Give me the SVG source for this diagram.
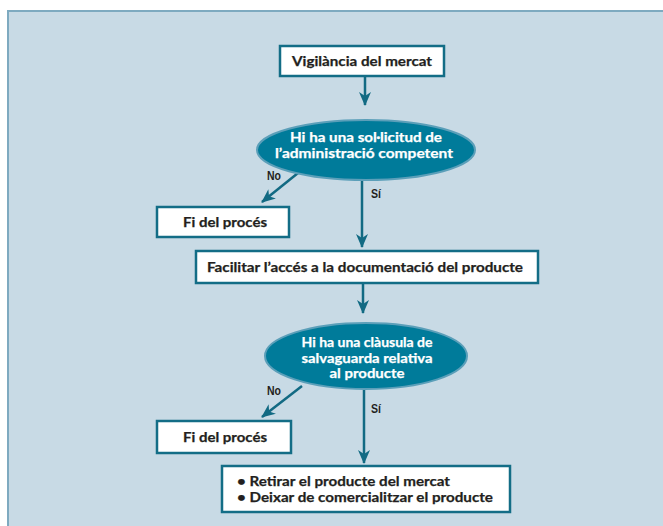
<svg xmlns="http://www.w3.org/2000/svg" width="663" height="526" viewBox="0 0 663 526">
<style>
.box{fill:#ffffff;stroke:#136d86;stroke-width:2.5}
.ell{fill:#007b9a;stroke:#5b9fb9;stroke-width:2}
.t{font-family:Lato,"Liberation Sans",sans-serif;font-weight:bold;font-size:13.5px;fill:#231f20;stroke:#231f20;stroke-width:0.25}
.w{font-family:Lato,"Liberation Sans",sans-serif;font-weight:bold;font-size:13.5px;fill:#ffffff;stroke:#ffffff;stroke-width:0.25;text-anchor:middle}
.c{text-anchor:middle}
.lbl{font-family:"Liberation Sans",sans-serif;font-weight:bold;font-size:12.5px;fill:#231f20}
.con{stroke:#126a83;stroke-width:2.5;fill:none;marker-end:url(#ah)}
</style>
<defs>
<marker id="ah" viewBox="0 0 14 12" refX="13" refY="6" markerWidth="14" markerHeight="12" markerUnits="userSpaceOnUse" orient="auto">
<path d="M0,0 L14,6 L0,12 L4,6 Z" fill="#126a83"/>
</marker>
</defs>
<rect x="0" y="0" width="663" height="526" fill="#ffffff"/>
<rect x="8" y="11" width="662" height="522" fill="#c8dae5" stroke="#7eaac0" stroke-width="2"/>
<g id="connectors">
<line class="con" x1="365" y1="77" x2="365" y2="105"/>
<line class="con" x1="298" y1="173" x2="262" y2="202"/>
<line class="con" x1="362" y1="180" x2="362" y2="247"/>
<line class="con" x1="363" y1="284" x2="363" y2="313"/>
<line class="con" x1="302" y1="386" x2="262" y2="417"/>
<line class="con" x1="364" y1="390" x2="364" y2="463"/>
<text class="lbl" x="267" y="180" textLength="14" lengthAdjust="spacingAndGlyphs">No</text>
<text class="lbl" x="371" y="198" textLength="10" lengthAdjust="spacingAndGlyphs">Sí</text>
<text class="lbl" x="267" y="395" textLength="14" lengthAdjust="spacingAndGlyphs">No</text>
<text class="lbl" x="371" y="413" textLength="10" lengthAdjust="spacingAndGlyphs">Sí</text>
</g>
<g id="vigilancia">
<rect class="box" x="280" y="46" width="164" height="30"/>
<text class="t c" x="362" y="66" textLength="140" lengthAdjust="spacingAndGlyphs">Vigilància del mercat</text>
</g>
<g id="decisio1">
<ellipse class="ell" cx="366" cy="150" rx="109" ry="30"/>
<text class="w" x="366" y="142" textLength="152" lengthAdjust="spacingAndGlyphs">Hi ha una sol·licitud de</text>
<text class="w" x="364" y="158" textLength="178" lengthAdjust="spacingAndGlyphs">l’administració competent</text>
</g>
<g id="fi1">
<rect class="box" x="157" y="207" width="132" height="30"/>
<text class="t c" x="225" y="227" textLength="84" lengthAdjust="spacingAndGlyphs">Fi del procés</text>
</g>
<g id="facilitar">
<rect class="box" x="196" y="251" width="342" height="32"/>
<text class="t c" x="365" y="272" textLength="316" lengthAdjust="spacingAndGlyphs">Facilitar l’accés a la documentació del producte</text>
</g>
<g id="decisio2">
<ellipse class="ell" cx="366" cy="356" rx="101" ry="33"/>
<text class="w" x="367" y="347" textLength="131" lengthAdjust="spacingAndGlyphs">Hi ha una clàusula de</text>
<text class="w" x="367" y="363" textLength="131" lengthAdjust="spacingAndGlyphs">salvaguarda relativa</text>
<text class="w" x="367" y="378" textLength="75" lengthAdjust="spacingAndGlyphs">al producte</text>
</g>
<g id="fi2">
<rect class="box" x="157" y="421" width="134" height="32"/>
<text class="t c" x="225" y="442" textLength="84" lengthAdjust="spacingAndGlyphs">Fi del procés</text>
</g>
<g id="retirar">
<rect class="box" x="222" y="466" width="288" height="46"/>
<text class="t" x="237" y="486" textLength="213" lengthAdjust="spacingAndGlyphs">• Retirar el producte del mercat</text>
<text class="t" x="237" y="502" textLength="256" lengthAdjust="spacingAndGlyphs">• Deixar de comercialitzar el producte</text>
</g>
</svg>
